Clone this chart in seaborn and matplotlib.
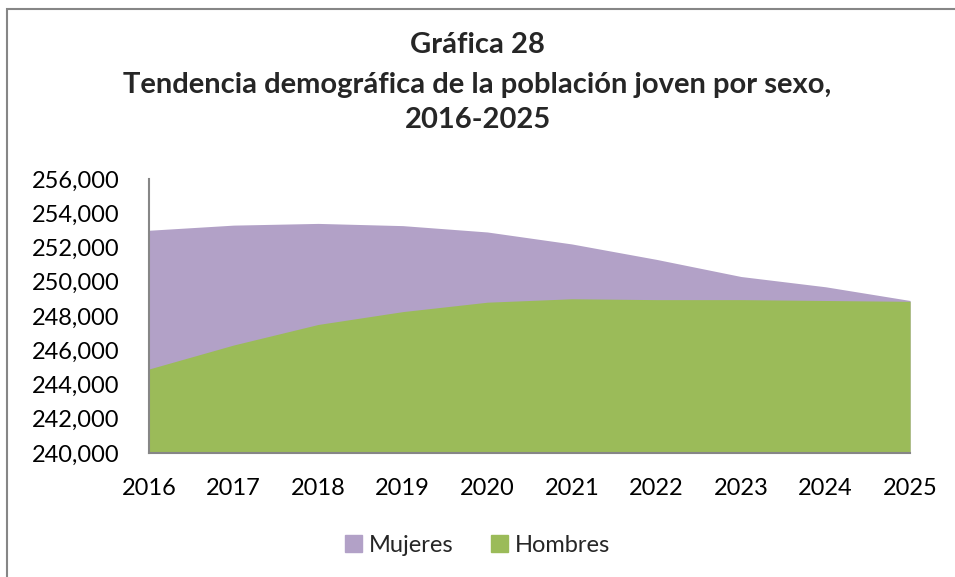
import matplotlib
matplotlib.use("Agg")
import matplotlib.pyplot as plt
import matplotlib.patches as mpatches
import seaborn as sns
import pandas as pd

# datos
years = [2016, 2017, 2018, 2019, 2020, 2021, 2022, 2023, 2024, 2025]
mujeres = [253000, 253300, 253400, 253270, 252900, 252200, 251300, 250300, 249700, 248900]
hombres = [244900, 246300, 247500, 248250, 248800, 249000, 248950, 248950, 248900, 248850]

df = pd.DataFrame({"Año": years, "Mujeres": mujeres, "Hombres": hombres})

sns.set_style("white")
plt.rcParams['font.family'] = ['Lato', 'DejaVu Sans']

purple = "#b2a1c7"
green = "#9bbb59"
base = 240000

fig = plt.figure(figsize=(9.55, 5.77), dpi=100)
ax = fig.add_axes([0.156, 0.215, 0.797, 0.475])

sns.lineplot(data=df, x="Año", y="Mujeres", ax=ax, color=purple, linewidth=0)
sns.lineplot(data=df, x="Año", y="Hombres", ax=ax, color=green, linewidth=0)
ax.fill_between(df["Año"], base, df["Mujeres"], color=purple, linewidth=0)
ax.fill_between(df["Año"], base, df["Hombres"], color=green, linewidth=0)

ax.set_xlim(2016, 2025)
ax.set_ylim(240000, 256000)
ax.set_yticks(range(240000, 256001, 2000))
ax.set_yticklabels([f"{v:,}" for v in range(240000, 256001, 2000)])
ax.set_xticks(years)
ax.tick_params(axis="both", labelsize=17, length=0, colors="black")
ax.tick_params(axis="x", pad=18)
ax.tick_params(axis="y", pad=21)
ax.set_xlabel("")
ax.set_ylabel("")

for s in ["top", "right"]:
    ax.spines[s].set_visible(False)
for s in ["left", "bottom"]:
    ax.spines[s].set_color("#868686")
    ax.spines[s].set_linewidth(1.5)

fig.text(0.5, 0.922, "Gráfica 28", ha="center", va="center", fontsize=21, fontweight="bold")
fig.text(0.5, 0.853, "Tendencia demográfica de la población joven por sexo,", ha="center", va="center",
         fontsize=21, fontweight="bold")
fig.text(0.5, 0.792, "2016-2025", ha="center", va="center", fontsize=21, fontweight="bold")

handles = [mpatches.Patch(color=purple, label="Mujeres"), mpatches.Patch(color=green, label="Hombres")]
fig.legend(handles=handles, loc="center", bbox_to_anchor=(0.5, 0.055), ncol=2, frameon=False,
           fontsize=17, handlelength=0.7, handleheight=0.7, handletextpad=0.3, columnspacing=1.6)

# marco exterior
fig.patches.append(mpatches.Rectangle((7 / 955, -0.05), 1.0, 1 - 9 / 577 + 0.05, transform=fig.transFigure,
                                      fill=False, edgecolor="#868686", linewidth=1.5))

plt.savefig("out.png", dpi=100)
